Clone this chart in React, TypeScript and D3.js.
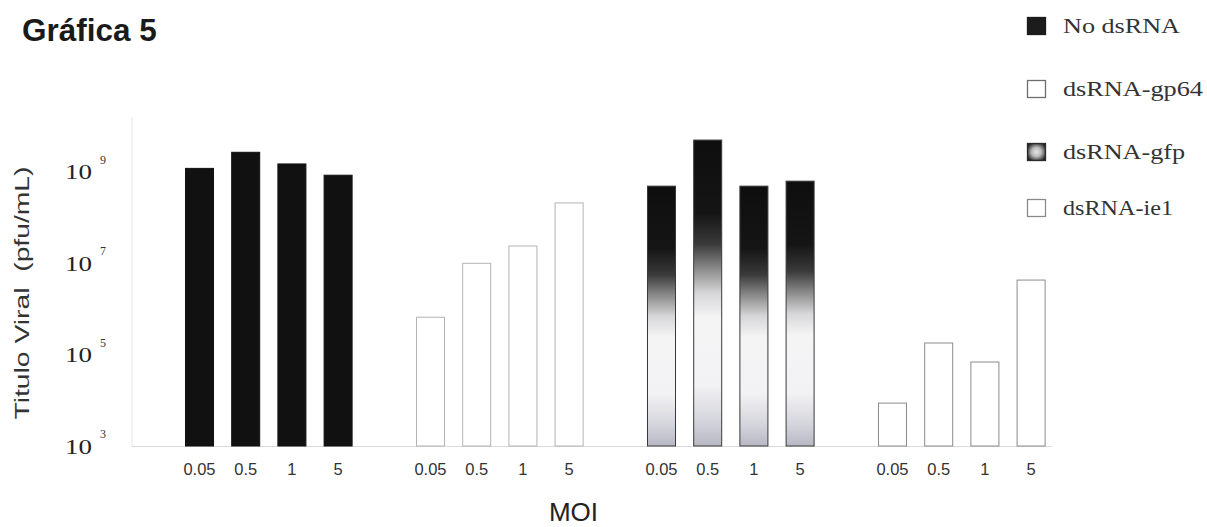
import React from 'react';
import * as d3 from 'd3';

// ---- data ----
const groups = ['No dsRNA', 'dsRNA-gp64', 'dsRNA-gfp', 'dsRNA-ie1'];
const moiLabels = ['0.05', '0.5', '1', '5'];
const noDsRNA = [1.2e9, 2.7e9, 1.5e9, 8.5e8];
const gp64 = [6.6e5, 1.0e7, 2.4e7, 2.1e8];
const gfp = [4.9e8, 5.0e9, 4.9e8, 6.3e8];
const ie1 = [8.7e3, 1.8e5, 6.9e4, 4.3e6];
const yTicks = [1e3, 1e5, 1e7, 1e9];
const title = 'Gráfica 5';
const yTitle = 'Titulo Viral  (pfu/mL)';
const xTitle = 'MOI';

const seriesValues = [noDsRNA, gp64, gfp, ie1];

// ---- styles ----
const fills = ['#111111', '#ffffff', 'url(#gfpGrad)', '#ffffff'];
const strokes = ['#111111', '#b4b4b4', '#3a3a3a', '#8c8c8c'];
const legendFills = ['#1c1c1c', '#ffffff', 'url(#gfpLegend)', '#ffffff'];
const legendStrokes = ['#1c1c1c', '#6e6e6e', '#2a2a2a', '#8a8a8a'];
const legendTextWidths = [117, 140, 122, 110];
const legendRowY = [26, 89, 152, 208];

const W = 1207;
const H = 527;

export default function App() {
  const y = d3.scaleLog().domain([1e3, 1.6e10]).range([446, 117]);
  const x0 = d3
    .scaleBand<string>()
    .domain(groups)
    .range([153.3, 1077.3])
    .paddingInner(0.2)
    .paddingOuter(0.1);
  const x1 = d3
    .scaleBand<string>()
    .domain(moiLabels)
    .range([0, x0.bandwidth()])
    .paddingInner(0.372)
    .paddingOuter(0.186);

  const baseY = y(1e3);

  return (
    <svg
      width={W}
      height={H}
      viewBox={`0 0 ${W} ${H}`}
      style={{ position: 'absolute', left: 0, top: 0, background: '#fff' }}
    >
      <defs>
        <linearGradient id="gfpGrad" x1="0" y1="0" x2="0" y2="1">
          <stop offset="0" stopColor="#0e0e0e" />
          <stop offset="0.24" stopColor="#151515" />
          <stop offset="0.34" stopColor="#3a3a3a" />
          <stop offset="0.42" stopColor="#8a8a8a" />
          <stop offset="0.50" stopColor="#d6d6d8" />
          <stop offset="0.58" stopColor="#f4f4f5" />
          <stop offset="0.80" stopColor="#f2f2f4" />
          <stop offset="0.92" stopColor="#d4d4dc" />
          <stop offset="1" stopColor="#b8b8c4" />
        </linearGradient>
        <radialGradient id="gfpLegend" cx="0.5" cy="0.5" r="0.6">
          <stop offset="0" stopColor="#e6e6e6" />
          <stop offset="0.45" stopColor="#b8b8b8" />
          <stop offset="1" stopColor="#1e1e1e" />
        </radialGradient>
      </defs>

      {/* title */}
      <text
        x={22}
        y={41}
        fontFamily="'Liberation Sans', Arial, sans-serif"
        fontWeight="bold"
        fontSize={31.5}
        fill="#1a1a1a"
      >
        {title}
      </text>

      {/* faint axes */}
      <line x1={132} x2={132} y1={117} y2={baseY + 1} stroke="#e6e6e6" strokeWidth={1} />
      <line x1={132} x2={1052} y1={baseY + 0.5} y2={baseY + 0.5} stroke="#dadada" strokeWidth={1} />

      {/* y tick labels */}
      {yTicks.map((t) => {
        const exp = Math.round(Math.log10(t));
        const cy = y(t);
        return (
          <g key={t}>
            <text
              x={65}
              y={cy + 7.5}
              fontFamily="'Liberation Serif', 'Times New Roman', serif"
              fontSize={22}
              textLength={27}
              lengthAdjust="spacingAndGlyphs"
              fill="#222"
            >
              10
            </text>
            <text
              x={100}
              y={cy - 8}
              fontFamily="'Liberation Serif', 'Times New Roman', serif"
              fontSize={12}
              fill="#333"
            >
              {exp}
            </text>
          </g>
        );
      })}

      {/* y title */}
      <text
        transform={`translate(29, 293) rotate(-90)`}
        textAnchor="middle"
        fontFamily="'Liberation Sans', Arial, sans-serif"
        fontSize={20}
        textLength={253}
        lengthAdjust="spacingAndGlyphs"
        fill="#333"
        style={{ whiteSpace: 'pre' }}
      >
        {yTitle}
      </text>

      {/* bars */}
      {groups.map((g, gi) => (
        <g key={g} transform={`translate(${x0(g)},0)`}>
          {seriesValues[gi].map((v, i) => {
            const bx = x1(moiLabels[i])!;
            const top = y(v);
            return (
              <rect
                key={i}
                x={bx + 0.5}
                y={top}
                width={x1.bandwidth() - 1}
                height={baseY - top}
                fill={fills[gi]}
                stroke={strokes[gi]}
                strokeWidth={1}
              />
            );
          })}
          {moiLabels.map((m) => (
            <text
              key={m}
              x={x1(m)! + x1.bandwidth() / 2}
              y={475}
              textAnchor="middle"
              fontFamily="'Liberation Sans', Arial, sans-serif"
              fontSize={16.5}
              fill="#333"
            >
              {m}
            </text>
          ))}
        </g>
      ))}

      {/* x title */}
      <text
        x={573.5}
        y={521}
        textAnchor="middle"
        fontFamily="'Liberation Sans', Arial, sans-serif"
        fontSize={26}
        fill="#222"
      >
        {xTitle}
      </text>

      {/* legend */}
      {groups.map((g, i) => (
        <g key={g}>
          <rect
            x={1027.5}
            y={legendRowY[i] - 8.5}
            width={18}
            height={17}
            fill={legendFills[i]}
            stroke={legendStrokes[i]}
            strokeWidth={1.3}
          />
          <text
            x={1063}
            y={legendRowY[i] + 7}
            fontFamily="'Liberation Serif', 'Times New Roman', serif"
            fontSize={21}
            textLength={legendTextWidths[i]}
            lengthAdjust="spacingAndGlyphs"
            fill="#333"
          >
            {g}
          </text>
        </g>
      ))}
    </svg>
  );
}
